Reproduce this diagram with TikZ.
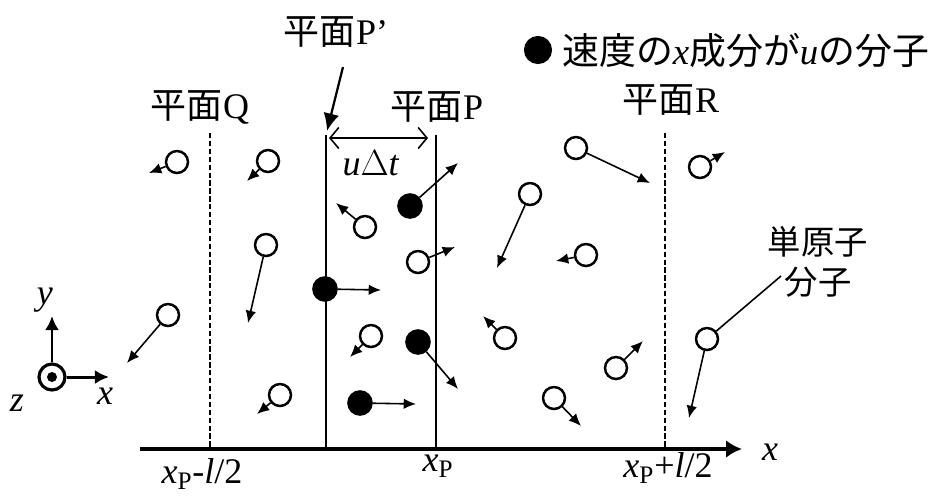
\documentclass[tikz,border=0pt]{standalone}
\usepackage{fontspec}
\setmainfont{Liberation Serif}
\newfontfamily\jp{Noto Sans CJK JP}
\usetikzlibrary{arrows.meta}

\tikzset{
  mol/.style={draw, circle, line width=1.4pt, fill=white, minimum size=0.44cm, inner sep=0pt},
  fmol/.style={draw, circle, line width=1.2pt, fill=black, minimum size=0.47cm, inner sep=0pt},
  vec/.style={-{Latex[length=7pt,width=6pt]}, line width=0.9pt},
  plane/.style={line width=1.5pt},
  dplane/.style={line width=1.5pt, dash pattern=on 3pt off 1.5pt}
}

\begin{document}
\begin{tikzpicture}[x=0.02cm, y=-0.02cm, >=Latex, every node/.style={font=\fontsize{20.5}{23}\selectfont}]
  \useasboundingbox (0,0) rectangle (941,498);

  % planes and x axis
  \coordinate (a0) at (140,449);
  \coordinate (a1) at (742,449);
  \draw[line width=2pt, -{Latex[length=9pt,width=10pt]}] (a0) -- (a1);
  \node (xl) at (770,452) {\textit{x}};
  \coordinate (q0) at (210,133); \coordinate (q1) at (210,449);
  \coordinate (p0) at (326,135); \coordinate (p1) at (326,449);
  \coordinate (r0) at (436,135); \coordinate (r1) at (436,449);
  \coordinate (s0) at (665,133); \coordinate (s1) at (665,449);
  \draw[dplane] (q0) -- (q1);
  \draw[plane] (p0) -- (p1);
  \draw[plane] (r0) -- (r1);
  \draw[dplane] (s0) -- (s1);

  \node (lq) at (202,474) {\textit{x}\textsubscript{P}-\textit{l}/2};
  \node (lp) at (438,466) {\textit{x}\textsubscript{P}};
  \node (lr) at (668,468) {\textit{x}\textsubscript{P}+\textit{l}/2};

  % plane names
  \node (nq) at (200,107) {{\jp 平面}Q};
  \node (npp) at (336,32) {{\jp 平面}P’};
  \node (np) at (437,107) {{\jp 平面}P};
  \node (nr) at (671,100) {{\jp 平面}R};
  \coordinate (pa) at (343,67);
  \coordinate (pb) at (327,131);
  \draw[line width=1.3pt, -{Latex[length=10pt,width=9pt]}] (pa) -- (pb);

  % u dt
  \coordinate (d0) at (329,138);
  \coordinate (d1) at (428,138);
  \draw[line width=0.9pt, {Straight Barb[length=5pt,width=12pt]}-{Straight Barb[length=5pt,width=12pt]}] (d0) -- (d1);
  \node (ut) at (371,163) {\textit{u}$\Delta$\textit{t}};

  % legend
  \node[fmol, minimum size=0.52cm] (key) at (538,50) {};
  \node[anchor=west, font=\fontsize{21}{24}\selectfont] (keyt) at (556,50) {{\jp 速度の}\textit{x}{\jp 成分が}\textit{u}{\jp の分子}};

  % molecules
  \foreach \n/\x/\y/\ex/\ey in {1/177/162/149/173, 2/268/161/247/181, 3/266/245/248/323,
      4/168/315/127/363, 5/280/395/257/414, 6/365/227/336/203, 7/418/262/455/247,
      8/576/148/650/183, 9/530/194/497/268, 10/586/255/556/261, 11/371/336/350/357,
      12/505/338/483/316, 13/554/398/581/426, 14/616/368/643/341, 15/707/339/689/418,
      16/700/167/725/152}{
    \node[mol] (m\n) at (\x,\y) {};
    \coordinate (e\n) at (\ex,\ey);
    \draw[vec] (m\n) -- (e\n);
  }
  \foreach \n/\x/\y/\ex/\ey in {1/410/206/458/163, 2/325/289/381/290, 3/418/342/458/389, 4/360/403/416/404}{
    \node[fmol] (f\n) at (\x,\y) {};
    \coordinate (g\n) at (\ex,\ey);
    \draw[vec] (f\n) -- (g\n);
  }

  % label of monatomic molecule
  \node[align=center, font=\jp\fontsize{19}{23}\selectfont] (mono) at (818,262) {単原子\\分子};
  \coordinate (mc) at (781,276);
  \draw[line width=0.9pt] (mc) -- (m15);

  % xyz axes
  \node[draw, circle, line width=1.8pt, minimum size=0.52cm, inner sep=0pt] (o) at (52,377) {};
  \fill (o.center) circle (0.1cm);
  \coordinate (oy) at (52,316);
  \coordinate (ox) at (109,377);
  \draw[line width=1.7pt, -{Latex[length=8pt,width=8pt]}] (o) -- (oy);
  \draw[line width=1.7pt, -{Latex[length=8pt,width=8pt]}] (o) -- (ox);
  \node (ly) at (45,300) {\textit{y}};
  \node (lx) at (105,396) {\textit{x}};
  \node (lz) at (17,403) {\textit{z}};
\end{tikzpicture}
\end{document}
